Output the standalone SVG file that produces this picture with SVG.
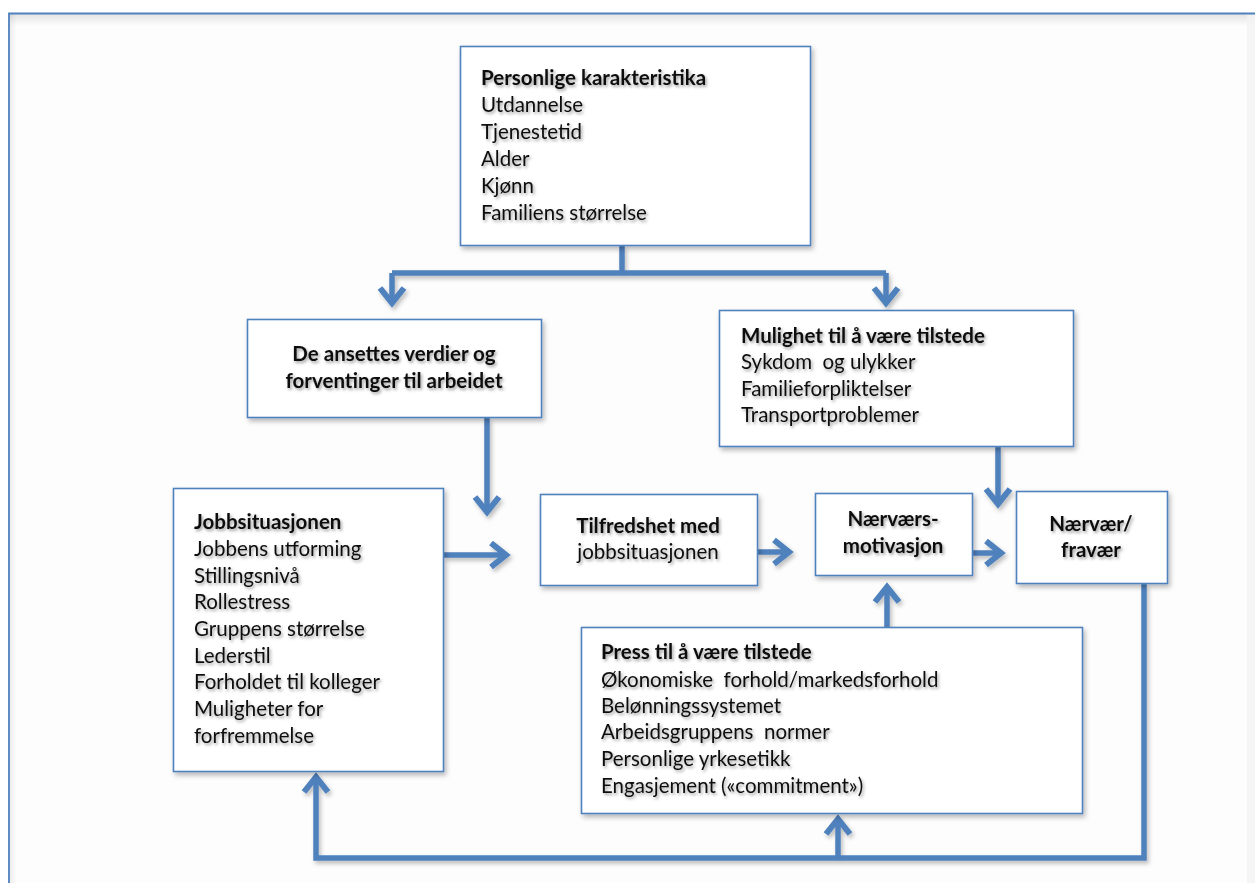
<svg xmlns="http://www.w3.org/2000/svg" width="1255" height="883" viewBox="0 0 1255 883">
<defs>
<filter id="bsh" x="-10%" y="-10%" width="130%" height="130%">
<feDropShadow dx="2" dy="3" stdDeviation="2.5" flood-color="#000" flood-opacity="0.28"/>
</filter>
<filter id="tsh" x="-5%" y="-30%" width="115%" height="170%">
<feDropShadow dx="1.5" dy="2" stdDeviation="1.5" flood-color="#000" flood-opacity="0.38"/>
</filter>
<filter id="lsh" x="-10%" y="-10%" width="130%" height="130%">
<feDropShadow dx="2" dy="3" stdDeviation="2" flood-color="#000" flood-opacity="0.25"/>
</filter>
<linearGradient id="gtop" x1="0" y1="0" x2="0" y2="1">
<stop offset="0" stop-color="#000" stop-opacity="0.10"/>
<stop offset="1" stop-color="#000" stop-opacity="0"/>
</linearGradient>
<linearGradient id="gleft" x1="0" y1="0" x2="1" y2="0">
<stop offset="0" stop-color="#000" stop-opacity="0.07"/>
<stop offset="1" stop-color="#000" stop-opacity="0"/>
</linearGradient>
<marker id="arr" markerUnits="userSpaceOnUse" viewBox="-22 -16 28 32" markerWidth="28" markerHeight="32" refX="0" refY="0" orient="auto" overflow="visible">
<polyline points="-16,-12 -1,0 -16,12" fill="none" stroke="#4F81BD" stroke-width="6" stroke-linejoin="miter"/>
</marker>
<style>
.box{fill:#fff;stroke:#4F81BD;stroke-width:1.6}
.t{font-family:Lato,"Open Sans","Liberation Sans",sans-serif;font-size:20.5px;fill:#111;white-space:pre}
.b{font-weight:bold}
.c{text-anchor:middle}
.ln{fill:none;stroke:#4F81BD;stroke-width:5.5;stroke-linejoin:miter}
</style>
</defs>
<rect x="0" y="0" width="1255" height="883" fill="#fff"/>
<g id="frame">
<rect x="9" y="14" width="1260" height="880" fill="#fdfdfd"/>
<rect x="9" y="14" width="1260" height="12" fill="url(#gtop)"/>
<rect x="9" y="14" width="8" height="880" fill="url(#gleft)"/>
<rect x="1247" y="14" width="8" height="880" fill="#f2f2f2" opacity="0.8"/>
<path d="M9,894 L9,13.5 L1260,13.5" fill="none" stroke="#4F81BD" stroke-width="1.8"/>
</g>
<g id="connectors" filter="url(#lsh)">
<polyline class="ln" points="622,246 622,273"/>
<polyline class="ln" points="392,273 886,273"/>
<polyline class="ln" points="392,273 392,304" marker-end="url(#arr)"/>
<polyline class="ln" points="886,273 886,304" marker-end="url(#arr)"/>
<polyline class="ln" points="487,418 487,513" marker-end="url(#arr)"/>
<polyline class="ln" points="998,447 998,505" marker-end="url(#arr)"/>
<polyline class="ln" points="444,555 507,555" marker-end="url(#arr)"/>
<polyline class="ln" points="758,552 790,552" marker-end="url(#arr)"/>
<polyline class="ln" points="972,553 1002,553" marker-end="url(#arr)"/>
<polyline class="ln" points="887,627 887,586" marker-end="url(#arr)"/>
<polyline class="ln" points="1144,584 1144,858 316,858 316,776" marker-end="url(#arr)"/>
<polyline class="ln" points="838,858 838,818" marker-end="url(#arr)"/>
</g>
<g id="personlige">
<rect class="box" x="460.5" y="46.5" width="350" height="199" filter="url(#bsh)"/>
<g filter="url(#tsh)">
<text class="t b" x="481" y="85">Personlige karakteristika</text>
<text class="t" x="481" y="112">Utdannelse</text>
<text class="t" x="481" y="139">Tjenestetid</text>
<text class="t" x="481" y="166">Alder</text>
<text class="t" x="481" y="193">Kjønn</text>
<text class="t" x="481" y="220">Familiens størrelse</text>
</g>
</g>
<g id="verdier">
<rect class="box" x="247.5" y="319.5" width="294" height="98" filter="url(#bsh)"/>
<g filter="url(#tsh)">
<text class="t b c" x="394" y="361">De ansettes verdier og</text>
<text class="t b c" x="394" y="388">forventinger til arbeidet</text>
</g>
</g>
<g id="mulighet">
<rect class="box" x="719.5" y="310.5" width="354" height="136" filter="url(#bsh)"/>
<g filter="url(#tsh)">
<text class="t b" x="741" y="343">Mulighet til å være tilstede</text>
<text class="t" x="741" y="369" xml:space="preserve">Sykdom  og ulykker</text>
<text class="t" x="741" y="396">Familieforpliktelser</text>
<text class="t" x="741" y="422">Transportproblemer</text>
</g>
</g>
<g id="jobbsituasjonen">
<rect class="box" x="173.5" y="488.5" width="270" height="283" filter="url(#bsh)"/>
<g filter="url(#tsh)">
<text class="t b" x="194" y="529">Jobbsituasjonen</text>
<text class="t" x="194" y="556">Jobbens utforming</text>
<text class="t" x="194" y="583">Stillingsnivå</text>
<text class="t" x="194" y="609">Rollestress</text>
<text class="t" x="194" y="636">Gruppens størrelse</text>
<text class="t" x="194" y="663">Lederstil</text>
<text class="t" x="194" y="689">Forholdet til kolleger</text>
<text class="t" x="194" y="716">Muligheter for</text>
<text class="t" x="194" y="743">forfremmelse</text>
</g>
</g>
<g id="tilfredshet">
<rect class="box" x="540.5" y="494.5" width="217" height="91" filter="url(#bsh)"/>
<g filter="url(#tsh)">
<text class="t b c" x="648" y="533">Tilfredshet med</text>
<text class="t c" x="648" y="559">jobbsituasjonen</text>
</g>
</g>
<g id="motivasjon">
<rect class="box" x="815.5" y="493.5" width="157" height="82" filter="url(#bsh)"/>
<g filter="url(#tsh)">
<text class="t b c" x="893" y="526">Nærværs-</text>
<text class="t b c" x="893" y="553">motivasjon</text>
</g>
</g>
<g id="fravaer">
<rect class="box" x="1016.5" y="491.5" width="151" height="92" filter="url(#bsh)"/>
<g filter="url(#tsh)">
<text class="t b c" x="1091" y="531">Nærvær/</text>
<text class="t b c" x="1091" y="557">fravær</text>
</g>
</g>
<g id="press">
<rect class="box" x="581.5" y="627.5" width="501" height="186" filter="url(#bsh)"/>
<g filter="url(#tsh)">
<text class="t b" x="601" y="659">Press til å være tilstede</text>
<text class="t" x="601" y="687" xml:space="preserve">Økonomiske  forhold/markedsforhold</text>
<text class="t" x="601" y="713">Belønningssystemet</text>
<text class="t" x="601" y="739" xml:space="preserve">Arbeidsgruppens  normer</text>
<text class="t" x="601" y="766">Personlige yrkesetikk</text>
<text class="t" x="601" y="793">Engasjement («commitment»)</text>
</g>
</g>
</svg>
